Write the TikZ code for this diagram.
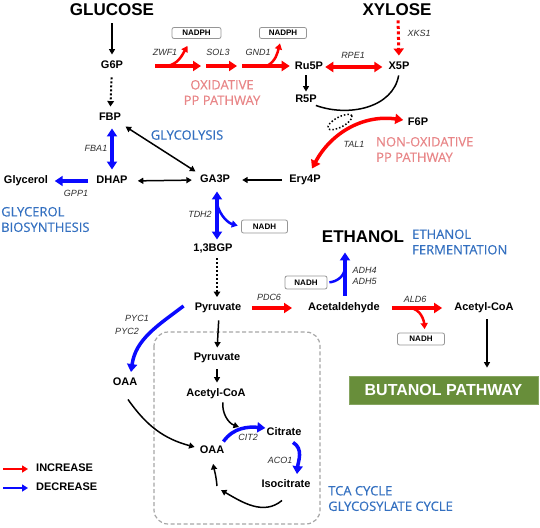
\documentclass[tikz,border=0pt]{standalone}
\usepackage{fontspec}
\setmainfont{Liberation Sans}
\newfontfamily\labfamily[FakeBold=0.4]{Open Sans}
\usetikzlibrary{arrows.meta,shapes.geometric,calc}
\definecolor{pinkt}{RGB}{232,134,136}
\definecolor{bluet}{RGB}{52,112,192}
\definecolor{rc}{RGB}{255,0,0}
\definecolor{bc}{RGB}{10,10,255}
\definecolor{butg}{RGB}{104,142,58}
\definecolor{enzc}{RGB}{45,45,45}
\definecolor{cofc}{RGB}{150,150,150}
\newcommand{\myMet}{\fontsize{11}{13}\selectfont\bfseries}
\newcommand{\myBig}{\fontsize{17}{19}\selectfont\bfseries}
\newcommand{\myEnz}{\fontsize{9}{11}\selectfont\itshape}
\newcommand{\myCof}{\fontsize{8}{9}\selectfont\bfseries}
\newcommand{\myLab}{\labfamily\fontsize{13}{15.5}\selectfont}
\newcommand{\myBut}{\fontsize{16}{18}\selectfont\bfseries}
\begin{document}
\begin{tikzpicture}[x=1pt,y=-1pt,
  met/.style={font=\myMet, inner sep=1pt, text height=8pt, text depth=2.5pt},
  bigm/.style={font=\myBig, inner sep=1pt, text height=12pt, text depth=0.5pt},
  enz/.style={font=\myEnz, text=enzc, inner sep=0.5pt},
  cof/.style={draw=cofc, line width=0.8pt, rounded corners=2pt, fill=white, font=\myCof, inner sep=0pt, minimum height=11pt},
  pinkl/.style={font=\myLab, text=pinkt, inner sep=0pt},
  bluel/.style={font=\myLab, text=bluet, inner sep=0pt},
  butbox/.style={fill=butg, draw=butg!80!white, line width=0.8pt, text=white, font=\myBut, minimum width=189pt, minimum height=28pt, inner sep=0pt},
  karr/.style={draw=black, line width=1.5pt, -{Triangle[length=5.5pt,width=6pt]}},
  karrd/.style={draw=black, line width=1.5pt, {Triangle[length=5.5pt,width=6pt]}-{Triangle[length=5.5pt,width=6pt]}},
  kline/.style={draw=black, line width=1.5pt},
  kdot/.style={draw=black, line width=2pt, dash pattern=on 2pt off 2pt, -{Triangle[length=5.5pt,width=6.5pt]}},
  rarr/.style={draw=rc, line width=3.5pt, -{Triangle[length=8pt,width=10pt]}},
  rarrd/.style={draw=rc, line width=3.5pt, {Triangle[length=8pt,width=10pt]}-{Triangle[length=8pt,width=10pt]}},
  rbr/.style={draw=rc, line width=2.5pt, -{Triangle[length=6pt,width=7pt]}},
  rdot/.style={draw=rc, line width=3pt, dash pattern=on 3pt off 2.5pt, -{Triangle[length=7pt,width=10pt]}},
  barr/.style={draw=bc, line width=3.5pt, -{Triangle[length=8pt,width=10pt]}},
  barrd/.style={draw=bc, line width=3.5pt, {Triangle[length=8pt,width=10pt]}-{Triangle[length=8pt,width=10pt]}},
  bbr/.style={draw=bc, line width=2.5pt, -{Triangle[length=6pt,width=7pt]}},
  bline/.style={draw=bc, line width=2.5pt},
  legr/.style={draw=rc, line width=2pt, -{Triangle[length=6pt,width=7pt]}},
  legb/.style={draw=bc, line width=2pt, -{Triangle[length=6pt,width=7pt]}},
  dashbox/.style={draw=gray!70, line width=1.2pt, dash pattern=on 4pt off 2.5pt, rounded corners=14pt}
]
\useasboundingbox (0,0) rectangle (540,527);

% ---- metabolites ----
\node[bigm] (glu) at (112,10) {GLUCOSE};
\node[bigm] (xyl) at (397,10) {XYLOSE};
\node[bigm] (eth) at (363,237) {ETHANOL};
\node[met] (g6p) at (112,66) {G6P};
\node[met] (fbp) at (110,118) {FBP};
\node[met] (dhap) at (112,181) {DHAP};
\node[met] (glyc) at (26,181) {Glycerol};
\node[met] (ga3p) at (215,180) {GA3P};
\node[met] (ery) at (305,180) {Ery4P};
\node[met] (bgp) at (213,249) {1,3BGP};
\node[met] (pyr) at (218,308) {Pyruvate};
\node[met] (acet) at (344,308) {Acetaldehyde};
\node[met] (accoa) at (484,308) {Acetyl-CoA};
\node[met] (oaa1) at (125,383) {OAA};
\node[met] (pyr2) at (217,358) {Pyruvate};
\node[met] (accoa2) at (216,394) {Acetyl-CoA};
\node[met] (oaa2) at (212,451) {OAA};
\node[met] (cit) at (284,433) {Citrate};
\node[met] (iso) at (286,485) {Isocitrate};
\node[met] (ru5p) at (309,67) {Ru5P};
\node[met] (x5p) at (399,67) {X5P};
\node[met] (r5p) at (306,100) {R5P};
\node[met] (f6p) at (418,123) {F6P};

% ---- cofactors ----
\node[cof, minimum width=49pt] (nadph1) at (196.5,33) {NADPH};
\node[cof, minimum width=47pt] (nadph2) at (283,33) {NADPH};
\node[cof, minimum width=46pt, minimum height=13pt] (nadh1) at (264.5,226.5) {NADH};
\node[cof, minimum width=42pt, minimum height=13pt] (nadh2) at (306,282.5) {NADH};
\node[cof, minimum width=47pt, minimum height=12pt] (nadh3) at (421,339) {NADH};

% ---- butanol box ----
\node[butbox] (but) at (443.5,390) {BUTANOL PATHWAY};

% ---- enzymes ----
\node[enz] (zwf) at (165,52) {ZWF1};
\node[enz] (sol) at (218,52) {SOL3};
\node[enz] (gnd) at (258,52) {GND1};
\node[enz] (rpe) at (353,55) {RPE1};
\node[enz] (xks) at (419,33) {XKS1};
\node[enz] (tal1) at (354,144) {TAL1};
\node[enz] (fba) at (96,148) {FBA1};
\node[enz] (gpp) at (76,193) {GPP1};
\node[enz] (tdh) at (200,214) {TDH2};
\node[enz] (pdc) at (269,297) {PDC6};
\node[enz, align=left, anchor=west] (adh) at (352,275.5) {ADH4\\ADH5};
\node[enz] (pyc1) at (137,318) {PYC1};
\node[enz] (pyc2) at (127,331) {PYC2};
\node[enz] (ald) at (415,299) {ALD6};
\node[enz] (cit2) at (248,437) {CIT2};
\node[enz] (aco) at (280,460) {ACO1};

% ---- pathway labels ----
\node[pinkl, align=center] (oxpp) at (222,92.5) {OXIDATIVE\\PP PATHWAY};
\node[pinkl, align=left, anchor=west] (noxpp) at (376,149.5) {NON-OXIDATIVE\\PP PATHWAY};
\node[bluel] (glyco) at (187,135) {GLYCOLYSIS};
\node[bluel, align=left, anchor=west] (glbio) at (1,219.5) {GLYCEROL\\BIOSYNTHESIS};
\node[bluel, align=left, anchor=west] (ethf) at (412,242) {ETHANOL\\FERMENTATION};
\node[bluel, align=left, anchor=west] (tca) at (328,498.5) {TCA CYCLE\\GLYCOSYLATE CYCLE};

% ---- TCA dashed frame ----
\draw[dashbox] (154,332) rectangle (320,524);

% ---- TAL1 dotted ellipse ----
\node[draw, ellipse, dotted, line width=1.5pt, rotate=28, minimum width=27pt, minimum height=10pt, inner sep=0pt] (tal) at (340,122) {};

% ---- glycolysis ----
\draw[karr, shorten <=6pt, shorten >=5pt] (glu) -- (g6p);
\draw[kdot, shorten <=5pt, shorten >=5pt] (g6p) -- (fbp);
\draw[barrd, shorten <=4pt, shorten >=5pt] (fbp.south -| dhap.north) -- (dhap.north);
\draw[karrd, shorten <=4pt, shorten >=4pt] (fbp.south east) -- (ga3p.north west);
\draw[barr, shorten <=7pt, shorten >=5.5pt] (dhap.west) -- (glyc.east);
\draw[karrd, shorten <=9pt, shorten >=7pt] (dhap.east) -- (ga3p.west);
\draw[karr, shorten <=6pt, shorten >=11pt] (ery.west) -- (ga3p.east);
\draw[barrd, shorten <=5pt, shorten >=3pt] ([xshift=2pt]ga3p.south) -- ([xshift=4pt]bgp.north);
\coordinate (tdhb) at (217,204);
\draw[bbr, shorten >=3.5pt] (tdhb) to[out=-75,in=165] (nadh1.west);
\draw[kdot, shorten <=3pt, shorten >=4.5pt] ([xshift=4pt]bgp.south) -- ([xshift=-1pt]pyr.north);

% ---- oxidative PP ----
\coordinate (z0) at (155,66); \coordinate (z1) at (201,66);
\coordinate (s0) at (206,66); \coordinate (s1) at (237,66);
\coordinate (g0) at (242,66);
\coordinate (zb) at (167,66); \coordinate (gb) at (267,66);
\draw[rarr] (z0) -- (z1);
\draw[rbr] (zb) to[out=10,in=-120] ([xshift=-9pt,yshift=-7pt]nadph1.south);
\draw[rarr] (s0) -- (s1);
\draw[rarr, shorten >=4pt] (g0) -- (ru5p.west |- g0);
\draw[rbr] (gb) to[out=30,in=-105] ([xshift=-3pt,yshift=-4.5pt]nadph2.south);
\draw[rarrd, shorten <=1pt, shorten >=5pt] (ru5p.east) -- (x5p.west);
\draw[rdot, shorten <=3pt, shorten >=5pt] ([xshift=1pt]xyl.south) -- (x5p.north);
\draw[karr, shorten <=2pt, shorten >=2pt] (ru5p.south -| r5p.north) -- (r5p.north);
\draw[kline, shorten <=2pt] (x5p.south) to[out=-100,in=-20] ([xshift=-2pt,yshift=1pt]r5p.south east);

% ---- non-oxidative PP ----
\draw[rarrd] ([xshift=7pt,yshift=5pt]ery.north) to[out=62,in=172] ([xshift=-3.5pt,yshift=3pt]f6p.west);

% ---- fermentation ----
\draw[rarr, shorten <=9.5pt, shorten >=15pt] (pyr.east) -- (acet.west);
\draw[barr, shorten <=6pt, shorten >=8pt] ([xshift=1pt]acet.north) -- ([xshift=1pt]acet.north |- eth.south);
\coordinate (adhm) at (345,268);
\draw[bline, shorten <=2pt] (nadh2.east) to[out=5,in=-95] (adhm);
\draw[rarr, shorten <=11pt, shorten >=11pt] (acet.east) -- (accoa.west);
\coordinate (aldb) at (410,308);
\draw[rbr, shorten >=3.5pt] (aldb) to[out=-5,in=95] ([xshift=4pt]nadh3.north);
\draw[karr, shorten <=5pt, shorten >=8pt] ([xshift=3pt]accoa.south) -- ([xshift=3pt]accoa.south |- but.north);

% ---- pyruvate carboxylase / TCA ----
\draw[barr] ([xshift=-10pt,yshift=2pt]pyr.west) to[out=-143,in=82] ([xshift=6pt,yshift=4.5pt]oaa1.north);
\draw[karr] ([xshift=3pt,yshift=-10pt]oaa1.south) to[out=-55,in=165] ([xshift=-4pt,yshift=4pt]oaa2.west);
\draw[karr, shorten <=6pt, shorten >=4pt] ([xshift=1pt]pyr.south) -- (pyr2.north);
\draw[karr, shorten <=5pt, shorten >=5pt] (pyr2.south) -- ([xshift=1pt]accoa2.north);
\coordinate (citj) at (239,427);
\draw[karr, shorten <=2pt] ([xshift=7pt]accoa2.south) to[out=-95,in=160] (citj);
\draw[barr] ([xshift=-2pt,yshift=3pt]oaa2.north east) to[out=55,in=175] ([xshift=0pt,yshift=5pt]cit.west);
\draw[barr] ([xshift=9pt,yshift=-3pt]cit.south) to[out=-30,in=85] ([xshift=11pt,yshift=4.5pt]iso.north);
\coordinate (cyc) at (221,490);
\coordinate (cyc2) at (217,486);
\draw[karr] ([xshift=-4pt,yshift=-9pt]iso.south) to[out=-140,in=-30] (cyc);
\draw[karr, shorten >=6.5pt] (cyc2) to[out=95,in=-80] (oaa2.south);

% ---- legend ----
\node[met, anchor=west] (linc) at (35,469) {INCREASE};
\node[met, anchor=west] (ldec) at (35,488) {DECREASE};
\coordinate (li0) at (3,469); \coordinate (ld0) at (3,488);
\draw[legr, shorten >=7pt] (li0) -- (linc.west);
\draw[legb, shorten >=7pt] (ld0) -- (ldec.west);
\end{tikzpicture}
\end{document}
